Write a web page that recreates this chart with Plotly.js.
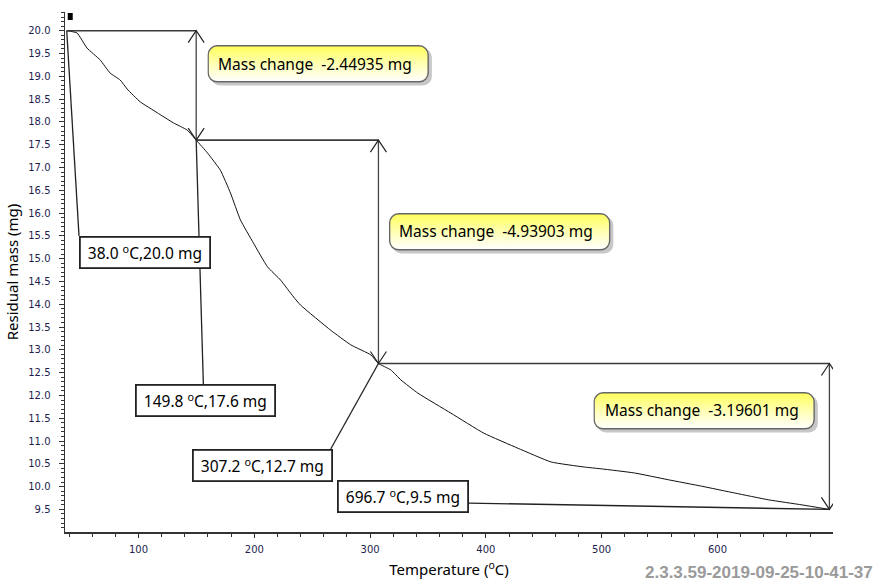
<!DOCTYPE html>
<html>
<head>
<meta charset="utf-8">
<script src="https://cdn.plot.ly/plotly-3.0.1.min.js"></script>
<style>html,body{margin:0;padding:0;background:#fff;}#chart{width:876px;height:581px;}</style>
</head>
<body>
<div id="chart"></div>
<script>
// ---- data ----
const temperature = [38.0, 46.9, 55.5, 66.8, 75.5, 84.1, 90.2, 101.4, 116.2, 130.0, 142.1, 149.8,
  159.5, 170.7, 179.4, 188.0, 199.3, 211.4, 222.7, 233.9, 240.0, 266.0, 283.3, 300.6, 307.2,
  317.9, 326.6, 341.3, 369.9, 398.4, 427.9, 456.4, 485.0, 499.7, 528.3, 557.7, 586.3, 614.9,
  644.3, 672.9, 696.7];
const residualMass = [20.0, 19.95, 19.62, 19.36, 19.07, 18.92, 18.72, 18.44, 18.20, 17.98, 17.82, 17.60,
  17.32, 16.94, 16.44, 15.85, 15.34, 14.82, 14.53, 14.16, 13.98, 13.43, 13.11, 12.89, 12.70,
  12.56, 12.34, 12.05, 11.61, 11.17, 10.84, 10.54, 10.43, 10.39, 10.30, 10.15, 10.01, 9.86,
  9.71, 9.60, 9.50];
const stepTemps = [38.0, 149.8, 307.2, 696.7];
const stepMass = [20.0, 17.6, 12.7, 9.5];
const massChange = [-2.44935, -4.93903, -3.19601];
const watermark = '2.3.3.59-2019-09-25-10-41-37';

// ---- placement of labels (layout, not data) ----
const pointLabelPos = [
  {x: 48.6, y: 15.50, lx: 48.6, ly: 15.50, xa: 'left', ya: 'top'},
  {x: 157.7, y: 12.25, lx: 156.0, ly: 12.25, xa: 'center', ya: 'top'},
  {x: 267.7, y: 10.825, lx: 266.0, ly: 10.825, xa: 'right', ya: 'top'},
  {x: 385.4, y: 9.784, lx: 385.4, ly: 9.64, xa: 'right', ya: 'middle'}
];
const changeBoxPos = [
  {x: 159.45, y: 19.686, tx: 252.1, ty: 19.27},
  {x: 316.2, y: 16.002, tx: 408.6, ty: 15.596},
  {x: 492.8, y: 12.076, tx: 586.6, ty: 11.67}
];
const xRange = [36.5, 699.8], yRange = [9.005, 20.41];
const plotW = 876 - 65 - 43, plotH = 581 - 12 - 49;
const pxPerX = plotW / (xRange[1] - xRange[0]), pxPerY = plotH / (yRange[1] - yRange[0]);
const boxW = 226, boxH = 42; // px of svg decoration

const boxSvg = "<svg xmlns='http://www.w3.org/2000/svg' width='226' height='42' viewBox='0 0 226 42'>" +
  "<defs><linearGradient id='g' x1='0' y1='0' x2='0' y2='1'>" +
  "<stop offset='0' stop-color='#ffff5a'/><stop offset='0.55' stop-color='#ffffbc'/><stop offset='1' stop-color='#ffffff'/></linearGradient></defs>" +
  "<rect x='3.5' y='3.5' width='221' height='37' rx='9' fill='#000' fill-opacity='0.22'/>" +
  "<rect x='0.8' y='0.8' width='220' height='36' rx='9' fill='url(#g)' stroke='#666' stroke-width='1.4'/>" +
  "</svg>";
const boxSrc = 'data:image/svg+xml;charset=utf-8,' + encodeURIComponent(boxSvg);

const textFont = {family: 'Noto Sans, DejaVu Sans, sans-serif', size: 15.5, color: '#000'};
const nb = '\u00a0';

const shapes = [];
const annotations = [];
const images = [];

// horizontal step lines
for (let i = 0; i < 3; i++) {
  shapes.push({type: 'line', xref: 'x', yref: 'y', x0: stepTemps[i], x1: stepTemps[i + 1],
    y0: stepMass[i], y1: stepMass[i], line: {color: '#3a3a3a', width: 1.6}});
}
// vertical double arrows: line + open chevrons at both ends
for (let i = 0; i < 3; i++) {
  const T = stepTemps[i + 1];
  shapes.push({type: 'line', xref: 'x', yref: 'y', x0: T, x1: T, y0: stepMass[i], y1: stepMass[i + 1],
    line: {color: '#444', width: 1.3}});
  shapes.push({type: 'path', xref: 'x', yref: 'y', xsizemode: 'pixel', ysizemode: 'pixel',
    xanchor: T, yanchor: stepMass[i], path: 'M-8,-12L0,0L8,-12', line: {color: '#222', width: 1.2}});
  shapes.push({type: 'path', xref: 'x', yref: 'y', xsizemode: 'pixel', ysizemode: 'pixel',
    xanchor: T, yanchor: stepMass[i + 1], path: 'M-8,12L0,0L8,12', line: {color: '#222', width: 1.2}});
}
// point labels with leader lines
for (let i = 0; i < 4; i++) {
  const p = pointLabelPos[i];
  shapes.push({type: 'line', xref: 'x', yref: 'y', x0: stepTemps[i], y0: stepMass[i], x1: p.lx, y1: p.ly,
    line: {color: '#222', width: 1.3}});
  annotations.push({x: p.x, y: p.y, xref: 'x', yref: 'y', showarrow: false, xanchor: p.xa, yanchor: p.ya,
    text: nb + stepTemps[i].toFixed(1) + ' <sup>o</sup>C,' + stepMass[i].toFixed(1) + ' mg' + nb,
    font: textFont, bgcolor: '#ffffff', bordercolor: '#222', borderwidth: 1.8, borderpad: 3});
}
// mass change boxes
for (let i = 0; i < 3; i++) {
  const b = changeBoxPos[i];
  images.push({source: boxSrc, xref: 'x', yref: 'y', x: b.x, y: b.y, sizex: boxW / pxPerX, sizey: boxH / pxPerY,
    xanchor: 'left', yanchor: 'top', sizing: 'stretch', layer: 'above'});
  annotations.push({x: b.tx, y: b.ty, xref: 'x', yref: 'y', showarrow: false, xanchor: 'center', yanchor: 'middle',
    text: 'Mass change' + nb + nb + String(massChange[i]) + ' mg', font: textFont});
}
// small black cursor marker at top
shapes.push({type: 'rect', xref: 'x', yref: 'paper', xsizemode: 'pixel', ysizemode: 'pixel',
  xanchor: stepTemps[0], yanchor: 1, x0: 1, x1: 6, y0: -1, y1: -8, fillcolor: '#000', line: {width: 0}});
// watermark
annotations.push({xref: 'paper', yref: 'paper', x: 1, y: 0, xshift: 42, yshift: -40, xanchor: 'right', yanchor: 'middle',
  showarrow: false, text: '<b>' + watermark + '</b>', font: {family: 'Liberation Sans, Arial, sans-serif', size: 17, color: '#9a9a9a'}});

const tickFont = {family: 'DejaVu Sans, sans-serif', size: 10, color: '#1e1e50'};

const trace = {x: temperature, y: residualMass, type: 'scatter', mode: 'lines',
  line: {color: '#111', width: 1, shape: 'spline', smoothing: 0.4}, hoverinfo: 'skip', showlegend: false};

const layout = {
  width: 876, height: 581,
  margin: {l: 65, r: 43, t: 12, b: 49},
  paper_bgcolor: '#fff', plot_bgcolor: '#fff',
  showlegend: false,
  xaxis: {range: xRange, showgrid: false, zeroline: false, showline: true, linecolor: '#333', linewidth: 1.5,
    ticks: 'outside', ticklen: 4, tickcolor: '#333', tickwidth: 1, dtick: 100, tick0: 0,
    minor: {dtick: 20, ticks: 'outside', ticklen: 3, tickcolor: '#333', showgrid: false},
    tickfont: tickFont, ticklabelstandoff: 3,
    title: {text: 'Temperature (<sup>o</sup>C)', font: {family: 'Noto Sans, DejaVu Sans, sans-serif', size: 15, color: '#000'}, standoff: 11}},
  yaxis: {range: yRange, showgrid: false, zeroline: false, showline: true, linecolor: '#333', linewidth: 1.5,
    ticks: 'outside', ticklen: 5, tickcolor: '#333', tickwidth: 1, dtick: 0.5, tick0: 0, tickformat: '.1f',
    minor: {dtick: 0.1, ticks: 'outside', ticklen: 3, tickcolor: '#333', showgrid: false},
    tickfont: tickFont, ticklabelstandoff: 6,
    title: {text: 'Residual mass (mg)', font: {family: 'Noto Sans, DejaVu Sans, sans-serif', size: 15, color: '#000'}, standoff: 6}},
  shapes: shapes, annotations: annotations, images: images
};

Plotly.newPlot('chart', [trace], layout, {staticPlot: true, displayModeBar: false});
</script>
</body>
</html>
